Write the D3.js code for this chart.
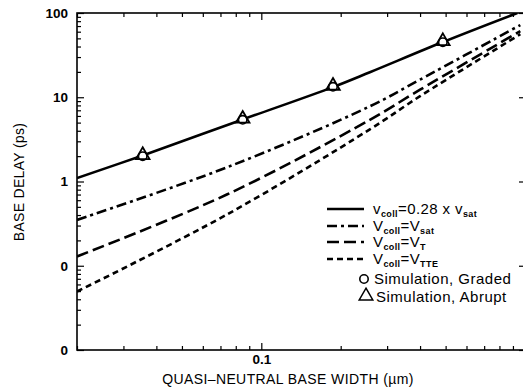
<!DOCTYPE html>
<html>
<head>
<meta charset="utf-8">
<script src="https://cdn.jsdelivr.net/npm/d3@7"></script>
<style>
  html, body { margin: 0; padding: 0; background: #fff; }
  svg { display: block; }
  text { font-family: "Liberation Sans", Arial, Helvetica, sans-serif; fill: #000; }
</style>
</head>
<body>
<div id="chart"></div>
<script>
// Data (log-log: base width in um vs base delay in ps).
const solidX = [0.02, 0.0355, 0.085, 0.187, 0.258, 0.488, 0.935];
const solidY = [1.1, 2.04, 5.45, 13.2, 19.8, 45.2, 100];
const satX = [0.02, 0.074, 0.258, 0.40, 0.96];
const satY = [0.35, 1.47, 7.8, 16.2, 72];
const tX = [0.02, 0.074, 0.258, 0.40, 0.96];
const tY = [0.129, 0.70, 5.4, 12.3, 61];
const tteX = [0.02, 0.074, 0.258, 0.40, 0.96];
const tteY = [0.0494, 0.405, 4.16, 10.3, 56];
const simX = [0.0355, 0.085, 0.187, 0.488];
const simY = [2.0, 5.4, 13.3, 45];

const yTickVals = [100, 10, 1, 0.1, 0.01];
const yTickLabels = ["100", "10", "1", "0", "0"];
const xTickVals = [0.1];
const xTickLabels = ["0.1"];
const xMinor = [0.02, 0.03, 0.04, 0.05, 0.06, 0.07, 0.08, 0.09, 0.2, 0.3, 0.4, 0.5, 0.6, 0.7, 0.8, 0.9];
const yMinor = [];
[0.01, 0.1, 1, 10].forEach((d) => { for (let k = 2; k <= 9; k++) yMinor.push(d * k); });

const W = 523, H = 388;
const X0 = 77, X1 = 525, Y0 = 350, Y1 = 13;

const svg = d3.select("#chart").append("svg").attr("width", W).attr("height", H);

const x = d3.scaleLog().domain([0.02, 1]).range([X0, X1]);
const y = d3.scaleLog().domain([0.01, 100]).range([Y0, Y1]);

svg.append("clipPath").attr("id", "plot")
  .append("rect").attr("x", X0).attr("y", Y1).attr("width", X1 - X0).attr("height", Y0 - Y1);

// Axes: ticks point inward, domain paths hidden (frame drawn separately).
function axisG(axis, tx, ty) {
  const g = svg.append("g").attr("transform", `translate(${tx},${ty})`).call(axis);
  g.select(".domain").remove();
  g.selectAll("line").attr("stroke", "#000").attr("stroke-width", 1.2);
  g.selectAll("text").style("font-size", "13.5px").style("font-weight", "bold").attr("fill", "#000");
  return g;
}

axisG(d3.axisLeft(y).tickValues(yMinor).tickSizeInner(-4).tickFormat(""), X0, 0);
axisG(d3.axisLeft(y).tickValues(yTickVals).tickSizeInner(-7).tickPadding(9)
  .tickFormat((d) => yTickLabels[yTickVals.indexOf(d)]), X0, 0);
axisG(d3.axisRight(y).tickValues(yTickVals).tickSizeInner(-6).tickFormat(""), X1, 0);

axisG(d3.axisBottom(x).tickValues(xMinor).tickSizeInner(-4).tickFormat(""), 0, Y0);
axisG(d3.axisBottom(x).tickValues(xTickVals).tickSizeInner(-7).tickPadding(4)
  .tickFormat((d) => xTickLabels[xTickVals.indexOf(d)]), 0, Y0);
axisG(d3.axisTop(x).tickValues(xMinor).tickSizeInner(-4).tickFormat(""), 0, Y1);
axisG(d3.axisTop(x).tickValues(xTickVals).tickSizeInner(-7).tickFormat(""), 0, Y1);

// Frame
svg.append("rect")
  .attr("x", X0).attr("y", Y1).attr("width", X1 - X0).attr("height", Y0 - Y1)
  .attr("fill", "none").attr("stroke", "#000").attr("stroke-width", 1.6);

const series = [
  { xs: solidX, ys: solidY, dash: null },
  { xs: satX, ys: satY, dash: "10,4,3,4" },
  { xs: tX, ys: tY, dash: "12,5" },
  { xs: tteX, ys: tteY, dash: "6,4" }
];

const line = d3.line().x((d) => x(d[0])).y((d) => y(d[1])).curve(d3.curveCatmullRom.alpha(0.5));

svg.append("g").attr("clip-path", "url(#plot)")
  .selectAll("path")
  .data(series)
  .join("path")
  .attr("d", (s) => line(s.xs.map((v, i) => [v, s.ys[i]])))
  .attr("fill", "none")
  .attr("stroke", "#000")
  .attr("stroke-width", 2.6)
  .attr("stroke-dasharray", (s) => s.dash);

// Simulation markers: circle (graded) under triangle (abrupt)
const sims = simX.map((v, i) => [v, simY[i]]);
const tri = d3.symbol().type(d3.symbolTriangle).size(80);
const mk = svg.append("g");
mk.selectAll("circle").data(sims).join("circle")
  .attr("cx", (d) => x(d[0])).attr("cy", (d) => y(d[1])).attr("r", 4.2)
  .attr("fill", "#fff").attr("stroke", "#000").attr("stroke-width", 1.6);
mk.selectAll("path").data(sims).join("path")
  .attr("transform", (d) => `translate(${x(d[0])},${y(d[1]) - 1})`)
  .attr("d", tri)
  .attr("fill", "none").attr("stroke", "#000").attr("stroke-width", 1.8);

// Legend
const legend = [
  { dash: null, parts: [["v", 0], ["coll", 1], ["=0.28 x v", 0], ["sat", 1]] },
  { dash: "10,4,3,4", parts: [["V", 0], ["coll", 1], ["=V", 0], ["sat", 1]] },
  { dash: "12,5", parts: [["V", 0], ["coll", 1], ["=V", 0], ["T", 1]] },
  { dash: "6,4", parts: [["V", 0], ["coll", 1], ["=V", 0], ["TTE", 1]] }
];
const legY = [209, 226, 242, 259];
const lg = svg.append("g");
legend.forEach((d, i) => {
  lg.append("line")
    .attr("x1", 327).attr("x2", 364).attr("y1", legY[i]).attr("y2", legY[i])
    .attr("stroke", "#000").attr("stroke-width", 2.6).attr("stroke-dasharray", d.dash);
  const t = lg.append("text").attr("x", 373).attr("y", legY[i] + 5)
    .style("font-size", "15px").style("letter-spacing", "0.4px");
  d.parts.forEach(([s, sub]) => {
    t.append("tspan")
      .attr("baseline-shift", sub ? "-28%" : null)
      .style("font-size", sub ? "9px" : "15px")
      .style("font-weight", sub ? "bold" : "normal")
      .text(s);
  });
});

lg.append("circle").attr("cx", 364).attr("cy", 279).attr("r", 4.2)
  .attr("fill", "none").attr("stroke", "#000").attr("stroke-width", 1.6);
lg.append("text").attr("x", 374).attr("y", 284).style("font-size", "15px")
  .style("letter-spacing", "0.5px").text("Simulation, Graded");
lg.append("path").attr("transform", "translate(366,296)").attr("d", tri)
  .attr("fill", "none").attr("stroke", "#000").attr("stroke-width", 1.5);
lg.append("text").attr("x", 376).attr("y", 302).style("font-size", "15px")
  .style("letter-spacing", "0.5px").text("Simulation, Abrupt");

// Axis titles
svg.append("text")
  .attr("x", 288).attr("y", 384)
  .attr("text-anchor", "middle")
  .style("font-size", "14px").style("letter-spacing", "0.4px")
  .text("QUASI\u2013NEUTRAL BASE WIDTH  (\u00b5m)");

svg.append("text")
  .attr("transform", "translate(24,182) rotate(-90)")
  .attr("text-anchor", "middle")
  .style("font-size", "14px").style("letter-spacing", "0.3px")
  .text("BASE DELAY (ps)");
</script>
</body>
</html>
